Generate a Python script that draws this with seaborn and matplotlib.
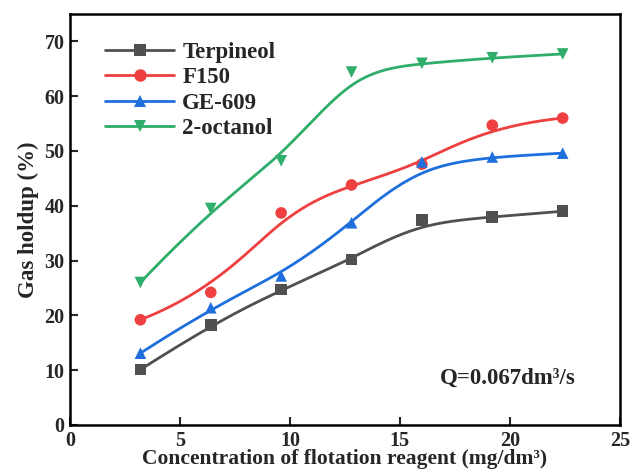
import numpy as np
import pandas as pd
import matplotlib
matplotlib.use("Agg")
import matplotlib.pyplot as plt
from matplotlib.lines import Line2D
import seaborn as sns

# data
conc = [3.2, 6.4, 9.6, 12.8, 16.0, 19.2, 22.4]
terpineol = [10.1, 18.3, 24.7, 30.2, 37.4, 37.9, 39.0]
f150 = [19.2, 24.2, 38.7, 43.8, 47.6, 54.7, 56.0]
ge609 = [13.1, 21.4, 27.2, 36.9, 48.0, 48.9, 49.6]
octanol = [26.0, 39.5, 48.2, 64.4, 66.0, 67.0, 67.7]

names = ["Terpineol", "F150", "GE-609", "2-octanol"]
series = [terpineol, f150, ge609, octanol]
colors = ["#505050", "#ee4040", "#1e6fdc", "#2fad6b"]
markers = ["s", "o", "^", "v"]


def bspline(px, py, k=3, n=200):
    # clamped B-spline with the data points as control points (like Origin's B-spline line)
    px, py = np.asarray(px), np.asarray(py)
    m = len(px)
    knots = np.concatenate([np.zeros(k), np.arange(m - k + 1), np.full(k, m - k)]).astype(float)
    t = np.linspace(0, m - k, n)
    t[-1] -= 1e-9

    def basis(i, d, t):
        if d == 0:
            return ((knots[i] <= t) & (t < knots[i + 1])).astype(float)
        out = np.zeros_like(t)
        den1 = knots[i + d] - knots[i]
        den2 = knots[i + d + 1] - knots[i + 1]
        if den1 > 0:
            out += (t - knots[i]) / den1 * basis(i, d - 1, t)
        if den2 > 0:
            out += (knots[i + d + 1] - t) / den2 * basis(i + 1, d - 1, t)
        return out

    B = np.array([basis(i, k, t) for i in range(m)])
    return B.T @ px, B.T @ py


pts = pd.DataFrame({
    "conc": conc * len(names),
    "holdup": sum(series, []),
    "reagent": np.repeat(names, len(conc)),
})
curves = []
for name, vals in zip(names, series):
    sx, sy = bspline(conc, vals)
    curves.append(pd.DataFrame({"conc": sx, "holdup": sy, "reagent": name}))
curves = pd.concat(curves, ignore_index=True)

sns.set_style("ticks")
plt.rcParams["font.family"] = ["Liberation Serif", "DejaVu Serif"]
plt.rcParams["font.weight"] = "bold"

fig = plt.figure(figsize=(6.32, 4.73), dpi=100)
ax = fig.add_axes([0.1108, 0.1015, 0.870, 0.869])

pal = dict(zip(names, colors))
sns.lineplot(data=curves, x="conc", y="holdup", hue="reagent", palette=pal,
             sort=False, linewidth=2, legend=False, ax=ax)
sns.scatterplot(data=pts, x="conc", y="holdup", hue="reagent", style="reagent",
                palette=pal, markers=dict(zip(names, markers)), s=70,
                edgecolor="none", legend=False, ax=ax, zorder=3)

ax.set_xlim(0, 25)
ax.set_ylim(0, 75)
ax.set_xticks([0, 5, 10, 15, 20, 25])
ax.set_yticks([0, 10, 20, 30, 40, 50, 60, 70])
ax.tick_params(direction="in", length=6, width=1.5, labelsize=14.5, pad=4)
for s in ax.spines.values():
    s.set_linewidth(1.8)
    s.set_color("black")

ax.set_xlabel("Concentration of flotation reagent (mg/dm\u00b3)", fontsize=15.5,
              fontweight="bold", labelpad=-1)
ax.set_ylabel("Gas holdup (%)", fontsize=16.5, fontweight="bold", labelpad=4)

handles = [Line2D([], [], color=c, marker=m, markersize=9, linewidth=2, markeredgewidth=0)
           for c, m in zip(colors, markers)]
ax.legend(handles, names, loc="upper left", bbox_to_anchor=(0.027, 0.983), frameon=False,
          prop={"size": 16.5, "weight": "bold"}, handlelength=3.0, labelspacing=0.2,
          handletextpad=0.35)

ax.text(19.9, 8.6, "Q=0.067dm\u00b3/s", fontsize=16.5, fontweight="bold",
        ha="center", va="center")

fig.savefig("out.png", dpi=100)
